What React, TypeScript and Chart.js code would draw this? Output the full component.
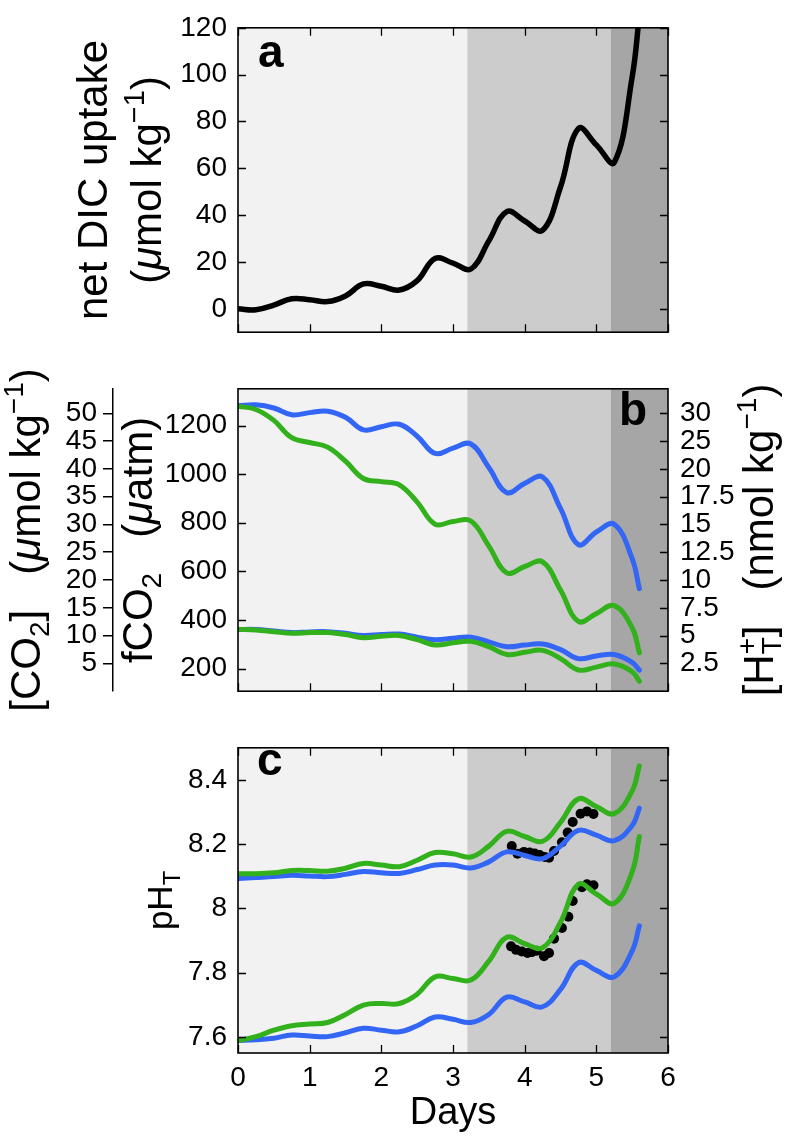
import React, { useEffect, useRef } from 'react';
import { Chart, registerables } from 'chart.js';

Chart.register(...registerables);

// ---------------- data ----------------
const days = [0, 0.25, 0.5, 0.75, 1, 1.25, 1.5, 1.75, 2, 2.25, 2.5, 2.75, 3, 3.25, 3.5, 3.75, 4, 4.25, 4.5, 4.75, 5, 5.25, 5.5, 5.6];

// panel a: net DIC uptake (µmol/kg)
const dicUptake = [0, -0.4, 1.6, 4.3, 3.9, 3.1, 5.5, 10.6, 9.6, 8.0, 12, 21.5, 19.5, 17, 29, 41.5, 37.5, 33.5, 52, 77, 70, 62.5, 99, 125];

// panel b: fCO2 (µatm)
const fco2HighBlue = [1281, 1285, 1272, 1244, 1253, 1259, 1234, 1182, 1195, 1205, 1156, 1085, 1107, 1124, 1027, 924, 962, 988, 859, 710, 762, 794, 652, 529];
const fco2HighGreen = [1279, 1266, 1221, 1150, 1130, 1111, 1053, 982, 969, 956, 885, 794, 805, 807, 704, 594, 620, 639, 523, 394, 426, 459, 368, 265];
const fco2LowBlue = [361, 361, 355, 348, 351, 352, 345, 336, 340, 342, 329, 319, 325, 329, 310, 290, 297, 301, 278, 241, 252, 258, 226, 194];
const fco2LowGreen = [361, 359, 352, 345, 348, 348, 340, 327, 333, 336, 319, 297, 306, 312, 290, 258, 267, 275, 241, 194, 206, 219, 187, 148];

// panel c: pH_T
const phHighGreen = [8.108, 8.108, 8.111, 8.118, 8.118, 8.116, 8.125, 8.140, 8.135, 8.130, 8.150, 8.174, 8.170, 8.160, 8.194, 8.240, 8.224, 8.209, 8.268, 8.341, 8.317, 8.295, 8.366, 8.444];
const phHighBlue = [8.093, 8.096, 8.099, 8.103, 8.101, 8.099, 8.106, 8.115, 8.111, 8.109, 8.121, 8.135, 8.135, 8.126, 8.145, 8.176, 8.165, 8.155, 8.194, 8.243, 8.228, 8.211, 8.258, 8.312];
const phLowGreen = [7.589, 7.601, 7.621, 7.635, 7.640, 7.645, 7.670, 7.699, 7.704, 7.704, 7.733, 7.787, 7.782, 7.777, 7.836, 7.910, 7.890, 7.878, 7.957, 8.075, 8.045, 8.016, 8.114, 8.224];
const phLowBlue = [7.589, 7.591, 7.596, 7.606, 7.603, 7.601, 7.613, 7.627, 7.621, 7.616, 7.635, 7.662, 7.655, 7.645, 7.670, 7.724, 7.709, 7.694, 7.748, 7.831, 7.807, 7.787, 7.868, 7.946];

// measured pH (black dots)
const measDaysHigh = [3.82, 3.90, 3.99, 4.07, 4.14, 4.21, 4.28, 4.34, 4.41, 4.52, 4.60, 4.67, 4.78, 4.87, 4.96];
const measPhHigh = [8.194, 8.170, 8.176, 8.174, 8.171, 8.166, 8.160, 8.158, 8.179, 8.206, 8.236, 8.269, 8.295, 8.302, 8.294];
const measDaysLow = [3.81, 3.88, 3.96, 4.04, 4.10, 4.17, 4.27, 4.34, 4.41, 4.52, 4.61, 4.67, 4.80, 4.87, 4.96];
const measPhLow = [7.882, 7.871, 7.866, 7.861, 7.864, 7.868, 7.851, 7.861, 7.906, 7.939, 7.974, 8.023, 8.066, 8.075, 8.072];

// phases (background shading)
const phaseEdges = [0, 3.2, 5.2, 6];
const phaseColors = ['#f2f2f2', '#cccccc', '#a6a6a6'];

// ticks
const dayTicks = [0, 1, 2, 3, 4, 5, 6];
const dicTicks = [0, 20, 40, 60, 80, 100, 120];
const fco2Ticks = [200, 400, 600, 800, 1000, 1200];
const co2Ticks = [5, 10, 15, 20, 25, 30, 35, 40, 45, 50];
const hPlusLabels = ['2.5', '5', '7.5', '10', '12.5', '15', '17.5', '20', '25', '30'];
const phTicks = [7.6, 7.8, 8, 8.2, 8.4];

// ---------------- helpers ----------------
const FONT = '"Liberation Sans", Arial, Helvetica, sans-serif';
const BLUE = '#3366f5';
const GREEN = '#33b11c';
const TICK_FONT = { family: FONT, size: 28 };

const pts = (xs: number[], ys: number[]) => xs.map((x, i) => ({ x, y: ys[i] }));
const fixTicks = (values: number[]) => (scale: any) => {
  scale.ticks = values.map((v) => ({ value: v }));
};
const fmt = (v: any) => String(Math.round(Number(v) * 1000) / 1000);

type Seg = { t?: string; s?: number; dy?: number; it?: boolean; sup?: string; sub?: string; subDy?: number };

function drawRich(ctx: CanvasRenderingContext2D, segs: Seg[], size: number, px: number, py: number, rotate: boolean) {
  ctx.save();
  const f = (sz: number, it?: boolean) => `${it ? 'italic ' : ''}${sz}px ${FONT}`;
  const widths = segs.map((sg) => {
    const sz = sg.s ?? size;
    ctx.font = f(sz, sg.it);
    if (sg.sup !== undefined) return Math.max(ctx.measureText(sg.sup).width, ctx.measureText(sg.sub || '').width);
    return ctx.measureText(sg.t || '').width;
  });
  const total = widths.reduce((p, c) => p + c, 0);
  ctx.translate(px, py);
  if (rotate) ctx.rotate(-Math.PI / 2);
  ctx.fillStyle = '#000';
  ctx.textAlign = 'left';
  ctx.textBaseline = 'alphabetic';
  let x = -total / 2;
  segs.forEach((sg, i) => {
    const sz = sg.s ?? size;
    ctx.font = f(sz, sg.it);
    if (sg.sup !== undefined) {
      ctx.fillText(sg.sup, x, -(sg.dy ?? 0));
      ctx.fillText(sg.sub || '', x, sg.subDy ?? 0);
    } else {
      ctx.fillText(sg.t || '', x, -(sg.dy ?? 0));
    }
    x += widths[i];
  });
  ctx.restore();
}

const decorPlugin = {
  id: 'panelDecor',
  beforeDatasetsDraw(chart: any) {
    const { ctx, chartArea: a, scales } = chart;
    const xs = scales.x;
    ctx.save();
    for (let i = 0; i < phaseColors.length; i++) {
      const x0 = xs.getPixelForValue(phaseEdges[i]);
      const x1 = xs.getPixelForValue(phaseEdges[i + 1]);
      ctx.fillStyle = phaseColors[i];
      ctx.fillRect(x0, a.top, x1 - x0, a.bottom - a.top);
    }
    ctx.restore();
  },
  afterDraw(chart: any, _args: any, opts: any) {
    const { ctx, chartArea: a, scales } = chart;
    const tl = 8;
    ctx.save();
    ctx.strokeStyle = '#000';
    ctx.lineWidth = 1.3;
    ctx.beginPath();
    if (opts.left) {
      const s = scales[opts.left.scale];
      opts.left.values.forEach((v: number) => {
        const p = Math.round(s.getPixelForValue(v)) + 0.5;
        ctx.moveTo(a.left, p);
        ctx.lineTo(a.left + tl, p);
      });
    }
    if (opts.right) {
      const s = scales[opts.right.scale];
      opts.right.values.forEach((v: number) => {
        const p = Math.round(s.getPixelForValue(v)) + 0.5;
        ctx.moveTo(a.right, p);
        ctx.lineTo(a.right - tl, p);
      });
    }
    const xs = scales.x;
    dayTicks.forEach((v) => {
      const p = Math.round(xs.getPixelForValue(v)) + 0.5;
      ctx.moveTo(p, a.bottom);
      ctx.lineTo(p, a.bottom - tl);
      if (opts.top) {
        ctx.moveTo(p, a.top);
        ctx.lineTo(p, a.top + tl);
      }
    });
    ctx.stroke();
    ctx.lineWidth = 1.6;
    ctx.strokeRect(a.left, a.top, a.right - a.left, a.bottom - a.top);

    // panel letter
    ctx.fillStyle = '#000';
    ctx.font = `bold 46px ${FONT}`;
    ctx.textBaseline = 'alphabetic';
    ctx.textAlign = opts.letter.align;
    ctx.fillText(opts.letter.text, opts.letter.x, opts.letter.y);
    ctx.restore();

    const cy = (a.top + a.bottom) / 2;
    (opts.titles || []).forEach((t: any) => {
      drawRich(ctx, t.segs, t.size, t.x, t.y ?? cy, t.rotate !== false);
    });
  },
};

const baseOptions = (padding: any) => ({
  animation: false as const,
  responsive: false,
  events: [] as any[],
  layout: { padding },
  elements: { point: { radius: 0 } },
});

const yAxis = (min: number, max: number, ticks: number[], width: number, extra: any = {}) => ({
  type: 'linear',
  min,
  max,
  afterBuildTicks: fixTicks(ticks),
  afterFit: (s: any) => {
    s.width = width;
  },
  grid: { display: false, drawTicks: false },
  border: { display: false },
  ticks: { font: TICK_FONT, color: '#000', padding: 11, callback: fmt, autoSkip: false },
  ...extra,
});

const lineDs = (ys: number[], color: string, extra: any = {}) => ({
  data: pts(days, ys),
  borderColor: color,
  backgroundColor: color,
  borderWidth: 5,
  pointRadius: 0,
  tension: 0.4,
  borderCapStyle: 'round',
  borderJoinStyle: 'round',
  fill: false,
  ...extra,
});

function configA(): any {
  return {
    type: 'line',
    data: { datasets: [lineDs(dicUptake, '#000', { clip: 0, borderWidth: 5.5 })] },
    options: {
      ...baseOptions({ top: 16, bottom: 23, left: 0, right: 122 }),
      plugins: {
        legend: { display: false },
        tooltip: { enabled: false },
        panelDecor: {
          left: { scale: 'y', values: dicTicks },
          right: { scale: 'y', values: dicTicks },
          top: true,
          letter: { text: 'a', align: 'left', x: 258, y: 67 },
          titles: [
            { segs: [{ t: 'net DIC uptake' }], size: 42, x: 107 },
            { segs: [{ t: '(' }, { t: 'μ', it: true }, { t: 'mol kg' }, { t: '−1', s: 29, dy: 17 }, { t: ')' }], size: 42, x: 161 },
          ],
        },
      },
      scales: {
        x: { type: 'linear', min: 0, max: 6, display: false },
        y: yAxis(-10, 120, dicTicks, 238),
      },
    },
  };
}

function configB(): any {
  return {
    type: 'line',
    data: {
      datasets: [
        lineDs(fco2HighGreen, GREEN),
        lineDs(fco2HighBlue, BLUE),
        lineDs(fco2LowGreen, GREEN),
        lineDs(fco2LowBlue, BLUE),
      ],
    },
    options: {
      ...baseOptions({ top: 13, bottom: 26, left: 0, right: 0 }),
      plugins: {
        legend: { display: false },
        tooltip: { enabled: false },
        panelDecor: {
          left: { scale: 'y', values: fco2Ticks },
          right: { scale: 'y3', values: co2Ticks },
          top: false,
          letter: { text: 'b', align: 'right', x: 647, y: 65 },
          titles: [
            {
              segs: [{ t: '[CO' }, { t: '2', s: 28, dy: -9 }, { t: ']   (' }, { t: 'μ', it: true }, { t: 'mol kg' }, { t: '−1', s: 28, dy: 17 }, { t: ')' }],
              size: 42,
              x: 40,
            },
            {
              segs: [{ t: 'fCO' }, { t: '2', s: 28, dy: -9 }, { t: '   (' }, { t: 'μ', it: true }, { t: 'atm)' }],
              size: 42,
              x: 152,
            },
            {
              segs: [{ t: '[H' }, { sup: '+', sub: 'T', s: 28, dy: 17, subDy: 8 }, { t: ']   (nmol kg' }, { t: '−1', s: 28, dy: 17 }, { t: ')' }],
              size: 42,
              x: 773,
            },
          ],
        },
      },
      scales: {
        x: { type: 'linear', min: 0, max: 6, display: false },
        y: yAxis(107, 1351, fco2Ticks, 125, { position: 'left', weight: 0 }),
        y2: yAxis(0, 54.4, co2Ticks, 113, {
          position: 'left',
          weight: 1,
          grid: { display: true, drawOnChartArea: false, drawTicks: true, tickLength: 10, color: '#000', lineWidth: 1.5 },
          border: { display: true, color: '#000', width: 1.5 },
          ticks: { font: TICK_FONT, color: '#000', padding: 6, callback: fmt, autoSkip: false },
        }),
        y3: yAxis(0, 54.4, co2Ticks, 122, {
          position: 'right',
          ticks: { font: TICK_FONT, color: '#000', padding: 12, autoSkip: false, callback: (_v: any, i: number) => hPlusLabels[i] },
        }),
      },
    },
  };
}

function configC(): any {
  const dots = (xs: number[], ys: number[]) => ({
    data: pts(xs, ys),
    showLine: false,
    pointRadius: 5,
    pointBorderWidth: 0,
    pointBackgroundColor: '#000',
    borderColor: '#000',
    backgroundColor: '#000',
  });
  return {
    type: 'line',
    data: {
      datasets: [
        lineDs(phHighGreen, GREEN),
        lineDs(phHighBlue, BLUE),
        lineDs(phLowGreen, GREEN),
        lineDs(phLowBlue, BLUE),
        dots(measDaysHigh, measPhHigh),
        dots(measDaysLow, measPhLow),
      ],
    },
    options: {
      ...baseOptions({ top: 11, bottom: 0, left: 0, right: 122 }),
      plugins: {
        legend: { display: false },
        tooltip: { enabled: false },
        panelDecor: {
          left: { scale: 'y', values: phTicks },
          right: { scale: 'y', values: phTicks },
          top: true,
          letter: { text: 'c', align: 'left', x: 257, y: 55 },
          titles: [
            { segs: [{ t: 'pH' }, { t: 'T', s: 24, dy: -8 }], size: 35, x: 172 },
            { segs: [{ t: 'Days' }], size: 38, x: 453, y: 404, rotate: false },
          ],
        },
      },
      scales: {
        x: {
          type: 'linear',
          min: 0,
          max: 6,
          afterBuildTicks: fixTicks(dayTicks),
          afterFit: (s: any) => {
            s.height = 88;
          },
          grid: { display: false, drawTicks: false },
          border: { display: false },
          ticks: { font: TICK_FONT, color: '#000', padding: 8, maxRotation: 0, autoSkip: false, callback: fmt },
        },
        y: yAxis(7.55, 8.5, phTicks, 238),
      },
    },
  };
}

export default function App() {
  const refA = useRef<HTMLCanvasElement>(null);
  const refB = useRef<HTMLCanvasElement>(null);
  const refC = useRef<HTMLCanvasElement>(null);

  useEffect(() => {
    const charts: Chart[] = [];
    const make = (el: HTMLCanvasElement | null, cfg: any) => {
      if (!el) return;
      cfg.plugins = [decorPlugin];
      charts.push(new Chart(el, cfg));
    };
    make(refA.current, configA());
    make(refB.current, configB());
    make(refC.current, configC());
    return () => charts.forEach((c) => c.destroy());
  }, []);

  const cs = (top: number): React.CSSProperties => ({ position: 'absolute', left: 0, top, display: 'block' });

  return (
    <div style={{ position: 'absolute', left: 0, top: 0, width: 790, height: 1141, overflow: 'hidden', background: '#fff' }}>
      <canvas ref={refA} width={790} height={360} style={{ ...cs(0), width: 790, height: 360 }} />
      <canvas ref={refB} width={790} height={360} style={{ ...cs(360), width: 790, height: 360 }} />
      <canvas ref={refC} width={790} height={421} style={{ ...cs(720), width: 790, height: 421 }} />
    </div>
  );
}
